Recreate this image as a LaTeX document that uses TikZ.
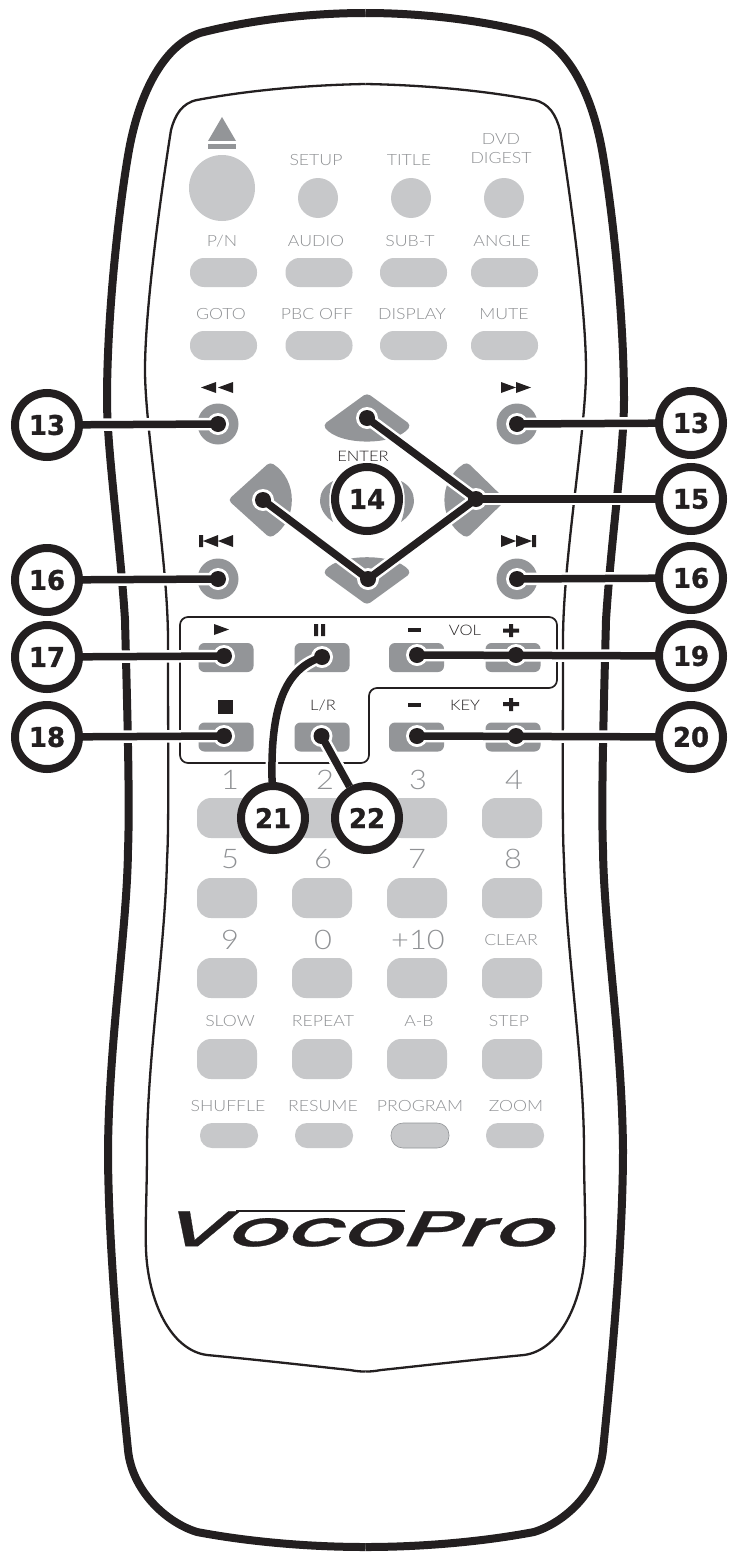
\documentclass[tikz,border=0pt]{standalone}
\usepackage{fontspec}
\setmainfont{Lato}
\newfontfamily\thinf[FakeStretch=1.14]{Lato Light}
\newfontfamily\numf[FakeStretch=0.96,FakeBold=1.2]{DejaVu Sans Bold}
\newfontfamily\logof[FakeSlant=0.5,FakeStretch=1.87,FakeBold=0.6]{Poppins Medium}
\usetikzlibrary{calc}
\pgfdeclarelayer{bg}\pgfdeclarelayer{conn}
\pgfsetlayers{bg,conn,main}
\definecolor{ink}{HTML}{231F20}
\definecolor{lgray}{HTML}{C7C8CA}
\definecolor{mgray}{HTML}{939598}
\definecolor{tgray}{HTML}{8F9194}
\tikzset{
 callout/.style={circle,draw=ink,fill=white,line width=8pt,minimum size=64pt,inner sep=0pt,text=ink,font=\numf\fontsize{27}{27}\selectfont},
 hit/.style={circle,fill=ink,minimum size=16pt,inner sep=0pt},
 link/.style={draw=ink,line width=7.5pt},
 halo/.style={draw=white,line width=12.5pt},
 halodot/.style={fill=white},
 pill/.style={rectangle,fill=lgray,minimum width=67pt,minimum height=29pt,rounded corners=14pt,inner sep=0pt},
 key/.style={rectangle,fill=lgray,minimum width=60pt,minimum height=40pt,rounded corners=14pt,inner sep=0pt},
 smallpill/.style={rectangle,fill=lgray,minimum width=58pt,minimum height=25pt,rounded corners=12pt,inner sep=0pt},
 dkey/.style={rectangle,fill=mgray,minimum width=55pt,minimum height=29pt,rounded corners=6pt,inner sep=0pt},
 disc/.style={circle,fill=lgray,minimum size=40pt,inner sep=0pt},
 mdisc/.style={circle,fill=mgray,minimum size=41pt,inner sep=0pt},
 lbl/.style={text=tgray,inner sep=0pt,font=\thinf\fontsize{15.5}{16}\selectfont},
 digit/.style={text=tgray,inner sep=0pt,font=\thinf\fontsize{27}{27}\selectfont},
 dlbl/.style={text=ink,inner sep=0pt,font=\thinf\fontsize{14.5}{15}\selectfont},
 glyph/.style={fill=ink,draw=none},
 shellout/.style={draw=ink,line width=8pt},
 shellin/.style={draw=ink,line width=2.3pt},
}
\newcommand\shellhalf{%
 \draw[shellout] (365.5,13) .. controls (310,13) and (250,20) .. (200,33)
   .. controls (165,45) and (140,90) .. (129,150)
   .. controls (120,200) and (107,310) .. (107,400)
   .. controls (107,450) and (120,540) .. (125,620)
   .. controls (127,700) and (130,800) .. (128,850)
   .. controls (127,930) and (109,1040) .. (108,1150)
   .. controls (108,1250) and (122,1390) .. (128,1450)
   .. controls (132,1490) and (165,1522) .. (197,1532)
   .. controls (250,1542) and (310,1547) .. (365.5,1547);
 \draw[shellin] (365.5,84) .. controls (310,85) and (250,90) .. (197,100)
   .. controls (182,103) and (175,115) .. (171,130)
   .. controls (160,200) and (145,310) .. (145,370)
   .. controls (145,430) and (168,560) .. (168,640)
   .. controls (168,750) and (169,830) .. (167,860)
   .. controls (165,950) and (147,1060) .. (147,1150)
   .. controls (147,1190) and (145,1225) .. (146,1250)
   .. controls (148,1300) and (170,1350) .. (207,1355)
   .. controls (270,1361) and (330,1368) .. (350,1370)
   .. controls (358,1371.5) and (362,1371.5) .. (365.5,1371.5);
}
\begin{document}
\begin{tikzpicture}[x=1pt,y=-1pt]
\useasboundingbox (0,0) rectangle (729,1552);
% ---------- background layer
\begin{pgfonlayer}{bg}
\fill[white] (0,0) rectangle (729,1552);
\shellhalf
\begin{scope}[xshift=731pt,xscale=-1]\shellhalf\end{scope}
% top block
\fill[mgray] (222,117)--(236,141)--(208,141)--cycle;
\fill[mgray] (208,143.5) rectangle (236,149);
\node[disc,minimum size=66pt] (bEject) at (222,188) {};
\node[disc] (bSetup) at (318,198) {};
\node[disc] (bTitle) at (411,198) {};
\node[disc] (bDigest) at (504,198) {};
\node[pill] (bPN) at (223.5,272.5) {};
\node[pill] (bAudio) at (319,272.5) {};
\node[pill] (bSub) at (413.5,272.5) {};
\node[pill] (bAngle) at (504.5,272.5) {};
\node[pill] (bGoto) at (223.5,345.5) {};
\node[pill] (bPbc) at (319,345.5) {};
\node[pill] (bDisp) at (413.5,345.5) {};
\node[pill] (bMute) at (504.5,345.5) {};
% transport
\node[mdisc] (bRew) at (218,424) {};
\node[mdisc] (bFf) at (517,424) {};
\node[mdisc] (bPrev) at (218,579) {};
\node[mdisc] (bNext) at (517,579) {};
% d-pad
\fill[mgray,rounded corners=4pt] (367,393)--(411,425) .. controls (395,446) and (339,446) .. (323,425)--cycle;
\fill[mgray,rounded corners=4pt] (367,605)--(323,573) .. controls (339,553) and (395,553) .. (411,573)--cycle;
\fill[mgray,rounded corners=4pt] (228,500)--(270,462) .. controls (298,480) and (298,520) .. (270,538)--cycle;
\fill[mgray,rounded corners=4pt] (506,500)--(467,462) .. controls (438,480) and (438,520) .. (467,538)--cycle;
\fill[mgray] (333,481) .. controls (315.7,490) and (315.7,510) .. (333,522) .. controls (328,510) and (328,490) .. (333,481)--cycle;
\fill[mgray] (401,481) .. controls (418.3,490) and (418.3,510) .. (401,522) .. controls (406,510) and (406,490) .. (401,481)--cycle;
% boxed dark keys
\draw[draw=ink,line width=1.7pt,rounded corners=8pt] (180,617)--(557,617)--(557,688)--(369,688)--(369,763)--(180,763)--cycle;
\node[dkey] (bPlay) at (226,657.5) {};
\node[dkey] (bPause) at (322,657.5) {};
\node[dkey] (bVolm) at (416.5,657.5) {};
\node[dkey] (bVolp) at (513,657.5) {};
\node[dkey] (bStop) at (226,737) {};
\node[dkey] (bLR) at (322,737) {};
\node[dkey] (bKeym) at (416.5,737) {};
\node[dkey] (bKeyp) at (513,737) {};
% number keys
\node[key] (k1) at (227,818) {};
\node[key] (k2) at (322,818) {};
\node[key] (k3) at (417,818) {};
\node[key] (k4) at (512,818) {};
\node[key] (k5) at (227,898) {};
\node[key] (k6) at (322,898) {};
\node[key] (k7) at (417,898) {};
\node[key] (k8) at (512,898) {};
\node[key] (k9) at (227,978) {};
\node[key] (k0) at (322,978) {};
\node[key] (k10) at (417,978) {};
\node[key] (kClear) at (512,978) {};
\node[key] (kSlow) at (227,1059) {};
\node[key] (kRepeat) at (322,1059) {};
\node[key] (kAB) at (417,1059) {};
\node[key] (kStep) at (512,1059) {};
\node[smallpill] (kShuffle) at (229,1135.5) {};
\node[smallpill] (kResume) at (324,1135.5) {};
\node[smallpill,draw=mgray,line width=0.6pt] (kProgram) at (420,1135.5) {};
\node[smallpill] (kZoom) at (515,1135.5) {};
\end{pgfonlayer}
% ---------- labels
\node[lbl] (tSetup) at (316,160) {SETUP};
\node[lbl] (tTitle) at (409,160) {TITLE};
\node[lbl] (tDvd) at (501,139) {DVD};
\node[lbl] (tDigest) at (501,158) {DIGEST};
\node[lbl] (tPN) at (222,241) {P/N};
\node[lbl] (tAudio) at (316,241) {AUDIO};
\node[lbl] (tSub) at (410,241) {SUB-T};
\node[lbl] (tAngle) at (502,241) {ANGLE};
\node[lbl] (tGoto) at (221,314) {GOTO};
\node[lbl] (tPbc) at (317,314) {PBC OFF};
\node[lbl] (tDisp) at (412,314) {DISPLAY};
\node[lbl] (tMute) at (504,314) {MUTE};
\node[dlbl] (tEnter) at (363,456) {ENTER};
\node[dlbl] (tVol) at (465,630) {VOL};
\node[dlbl] (tLR) at (323,706) {L/R};
\node[dlbl] (tKey) at (465,705) {KEY};
\node[digit] (t1) at (230,780) {1};
\node[digit] (t2) at (325,780) {2};
\node[digit] (t3) at (418,780) {3};
\node[digit] (t4) at (514,780) {4};
\node[digit] (t5) at (230,859) {5};
\node[digit] (t6) at (323,859) {6};
\node[digit] (t7) at (417,859) {7};
\node[digit] (t8) at (513,859) {8};
\node[digit] (t9) at (230,940) {9};
\node[digit] (t0) at (323,940) {0};
\node[digit] (t10) at (418,940) {+10};
\node[lbl] (tClear) at (511,940) {CLEAR};
\node[lbl] (tSlow) at (230,1021) {SLOW};
\node[lbl] (tRepeat) at (323,1021) {REPEAT};
\node[lbl] (tAB) at (419,1021) {A-B};
\node[lbl] (tStep) at (509,1021) {STEP};
\node[lbl] (tShuffle) at (228,1106) {SHUFFLE};
\node[lbl] (tResume) at (323,1106) {RESUME};
\node[lbl] (tProgram) at (420,1106) {PROGRAM};
\node[lbl] (tZoom) at (516,1106) {ZOOM};
\node[text=ink,inner sep=0pt,font=\logof\fontsize{50}{50}\selectfont] (tLogo) at (355,1229) {VocoPro};
\fill[ink] (236,1210.3) rectangle (405,1211.8);
% ---------- glyphs
\fill[glyph] (216,382)--(216,393)--(201,387.5)--cycle (233,382)--(233,393)--(218,387.5)--cycle;
\fill[glyph] (501,382)--(501,393)--(516,387.5)--cycle (516,382)--(516,393)--(531,387.5)--cycle;
\fill[glyph] (199,535) rectangle (203,547) (218,535)--(218,547)--(203,541)--cycle (233,535)--(233,547)--(218,541)--cycle;
\fill[glyph] (532,535) rectangle (536,547) (501,535)--(501,547)--(516,541)--cycle (516,535)--(516,547)--(532,541)--cycle;
\fill[glyph] (214,624)--(229,629.5)--(214,635)--cycle;
\fill[glyph] (314,624) rectangle (318,636) (321,624) rectangle (325,636);
\fill[glyph] (408,628) rectangle (421,632);
\fill[glyph] (503,628.5) rectangle (519,632.5) (509,624) rectangle (513,637);
\fill[glyph] (218,700) rectangle (233,714);
\fill[glyph] (408,703) rectangle (421,707);
\fill[glyph] (503,702) rectangle (519,706) (509,698) rectangle (513,711);
% ---------- hit points
\node[hit] (dRew) at (218,424) {};
\node[hit] (dFf) at (517,424) {};
\node[hit] (dPrev) at (218,579) {};
\node[hit] (dNext) at (517,579) {};
\node[hit] (dUp) at (367,418) {};
\node[hit] (dLeft) at (263,500) {};
\node[hit] (dRight) at (476,499) {};
\node[hit] (dDown) at (368,579) {};
\node[hit] (dPlay) at (224,656) {};
\node[hit] (dPause) at (322,657) {};
\node[hit] (dVolm) at (417,655) {};
\node[hit] (dVolp) at (516,655) {};
\node[hit] (dStop) at (224,736) {};
\node[hit] (dLR) at (321.5,736) {};
\node[hit] (dKeym) at (417,736) {};
\node[hit] (dKeyp) at (516,736) {};
% ---------- callouts
\node[callout] (c13a) at (47,425) {13};
\node[callout] (c13b) at (691,423) {13};
\node[callout] (c14) at (367,499) {14};
\node[callout] (c15) at (691,499) {15};
\node[callout] (c16a) at (47,580) {16};
\node[callout] (c16b) at (691,578) {16};
\node[callout] (c17) at (47,657) {17};
\node[callout] (c19) at (691,656) {19};
\node[callout] (c18) at (47,737) {18};
\node[callout] (c20) at (691,737) {20};
\node[callout] (c21) at (273,818) {21};
\node[callout] (c22) at (367,818) {22};
% ---------- connectors
\begin{pgfonlayer}{conn}
\foreach \d in {dRew,dFf,dPrev,dNext,dUp,dLeft,dRight,dDown,dPlay,dPause,dVolm,dVolp,dStop,dLR,dKeym,dKeyp}
  \fill[halodot] (\d.center) circle (11pt);
\foreach \st in {halo,link}{
 \draw[\st] (dRew.center)--(c13a);
 \draw[\st] (dFf.center)--(c13b);
 \draw[\st] (dPrev.center)--(c16a);
 \draw[\st] (dNext.center)--(c16b);
 \draw[\st] (dPlay.center)--(c17);
 \draw[\st] (dStop.center)--(c18);
 \draw[\st] (dVolm.center)--(c19);
 \draw[\st] (dKeym.center)--(c20);
 \draw[\st] (dUp.center)--(dRight.center);
 \draw[\st] (dDown.center)--(dRight.center);
 \draw[\st] (dLeft.center)--(dDown.center);
 \draw[\st] (dRight.center)--(c15);
 \draw[\st] (dLR.center)--(c22);
 \draw[\st] (dPause.center) .. controls (288,668) and (270,700) .. (c21);
}
\end{pgfonlayer}
\end{tikzpicture}
\end{document}
